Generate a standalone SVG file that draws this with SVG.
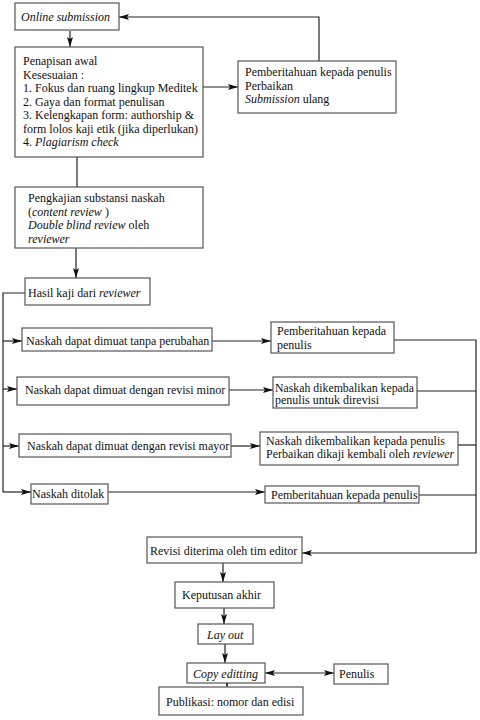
<svg xmlns="http://www.w3.org/2000/svg" width="480" height="720" viewBox="0 0 480 720">
<style>
.box{fill:#fff;stroke:#555;stroke-width:1.2}
.ln{fill:none;stroke:#222;stroke-width:1.2}
.t text{font-size:12px;fill:#111}
.i{font-style:italic}
</style>
<defs>
<marker id="ah" viewBox="0 0 10 6" refX="10" refY="3" markerWidth="10" markerHeight="6" markerUnits="userSpaceOnUse" orient="auto-start-reverse">
<path d="M0,0 L10,3 L0,6 L2,3 Z" fill="#111"/>
</marker>
</defs>
<rect width="480" height="720" fill="#fff"/>
<g id="connectors">
<path class="ln" d="M319,61 V17 H119" marker-end="url(#ah)"/>
<path class="ln" d="M70,31 V47" marker-end="url(#ah)"/>
<path class="ln" d="M203,87 H238" marker-end="url(#ah)"/>
<path class="ln" d="M77,157 V187"/>
<path class="ln" d="M76,248 V278" marker-end="url(#ah)"/>
<path class="ln" d="M25,293 H3 V492"/>
<path class="ln" d="M3,341 H22" marker-end="url(#ah)"/>
<path class="ln" d="M3,389 H17" marker-end="url(#ah)"/>
<path class="ln" d="M3,446 H19" marker-end="url(#ah)"/>
<path class="ln" d="M3,492 H31" marker-end="url(#ah)"/>
<path class="ln" d="M212,341 H271" marker-end="url(#ah)"/>
<path class="ln" d="M229,390 H273" marker-end="url(#ah)"/>
<path class="ln" d="M231,446 H260" marker-end="url(#ah)"/>
<path class="ln" d="M108,492 H265" marker-end="url(#ah)"/>
<path class="ln" d="M394,340 H476 V553 H302" marker-end="url(#ah)"/>
<path class="ln" d="M417,391 H476"/>
<path class="ln" d="M458,445 H476"/>
<path class="ln" d="M419,495 H476"/>
<path class="ln" d="M223,563 V582" marker-end="url(#ah)"/>
<path class="ln" d="M224,608 V624" marker-end="url(#ah)"/>
<path class="ln" d="M225,644 V663" marker-end="url(#ah)"/>
<path class="ln" d="M265,673 H334" marker-start="url(#ah)" marker-end="url(#ah)"/>
<path class="ln" d="M227,683 V687" marker-end="url(#ah)"/>
</g>
<g class="t" font-family="'Liberation Serif', 'DejaVu Serif', 'Times New Roman', serif">
<g id="online">
<rect class="box" x="15" y="3" width="104" height="27"/>
<text x="21" y="21" class="i">Online submission</text>
</g>
<g id="penapisan">
<rect class="box" x="15" y="47" width="188" height="110"/>
<text x="23" y="65">Penapisan awal</text>
<text x="23" y="78.5">Kesesuaian :</text>
<text x="23" y="92">1. Fokus dan ruang lingkup Meditek</text>
<text x="23" y="105.5">2. Gaya dan format penulisan</text>
<text x="23" y="119">3. Kelengkapan form: authorship &amp;</text>
<text x="23" y="132.5">form lolos kaji etik (jika diperlukan)</text>
<text x="23" y="146">4. <tspan class="i">Plagiarism check</tspan></text>
</g>
<g id="pemberitahuan1">
<rect class="box" x="238" y="61" width="158" height="52"/>
<text x="245" y="76">Pemberitahuan kepada penulis</text>
<text x="245" y="89.5">Perbaikan</text>
<text x="245" y="103"><tspan class="i">Submission</tspan> ulang</text>
</g>
<g id="pengkajian">
<rect class="box" x="15" y="187" width="188" height="61"/>
<text x="28" y="202">Pengkajian substansi naskah</text>
<text x="28" y="215.5">(<tspan class="i">content review </tspan>)</text>
<text x="28" y="229"><tspan class="i">Double blind review</tspan> oleh</text>
<text x="28" y="242.5" class="i">reviewer</text>
</g>
<g id="hasil">
<rect class="box" x="25" y="278" width="125" height="27"/>
<text x="28" y="297">Hasil kaji dari <tspan class="i">reviewer</tspan></text>
</g>
<g id="tanpa">
<rect class="box" x="22" y="328" width="190" height="23"/>
<text x="26" y="344.5">Naskah dapat dimuat tanpa perubahan</text>
</g>
<g id="minor">
<rect class="box" x="17" y="377" width="212" height="28"/>
<text x="25" y="394">Naskah dapat dimuat dengan revisi minor</text>
</g>
<g id="mayor">
<rect class="box" x="19" y="434" width="212" height="23"/>
<text x="27" y="450">Naskah dapat dimuat dengan revisi mayor</text>
</g>
<g id="ditolak">
<rect class="box" x="31" y="484" width="77" height="20"/>
<text x="32" y="498">Naskah ditolak</text>
</g>
<g id="r1">
<rect class="box" x="271" y="322" width="123" height="31"/>
<text x="277" y="335">Pemberitahuan kepada</text>
<text x="277" y="348.5">penulis</text>
</g>
<g id="r2">
<rect class="box" x="273" y="377" width="144" height="31"/>
<text x="275" y="391.5" textLength="139" lengthAdjust="spacingAndGlyphs">Naskah dikembalikan kepada</text>
<text x="275" y="404">penulis untuk direvisi</text>
</g>
<g id="r3">
<rect class="box" x="260" y="432" width="198" height="33"/>
<text x="266" y="444.5">Naskah dikembalikan kepada penulis</text>
<text x="266" y="458">Perbaikan dikaji kembali oleh <tspan class="i">reviewer</tspan></text>
</g>
<g id="r4">
<rect class="box" x="265" y="486" width="154" height="17"/>
<text x="271" y="498.5">Pemberitahuan kepada penulis</text>
</g>
<g id="revisi">
<rect class="box" x="147" y="537" width="155" height="26"/>
<text x="150" y="555">Revisi diterima oleh tim editor</text>
</g>
<g id="keputusan">
<rect class="box" x="175" y="582" width="99" height="26"/>
<text x="182" y="599">Keputusan akhir</text>
</g>
<g id="layout">
<rect class="box" x="198" y="624" width="55" height="20"/>
<text x="207" y="638.5" class="i">Lay out</text>
</g>
<g id="copy">
<rect class="box" x="187" y="663" width="78" height="20"/>
<text x="193" y="677.5" class="i">Copy editting</text>
</g>
<g id="penulis">
<rect class="box" x="334" y="664" width="54" height="20"/>
<text x="339" y="678">Penulis</text>
</g>
<g id="publikasi">
<rect class="box" x="159" y="687" width="144" height="28"/>
<text x="166" y="706">Publikasi: nomor dan edisi</text>
</g>
</g>
</svg>
